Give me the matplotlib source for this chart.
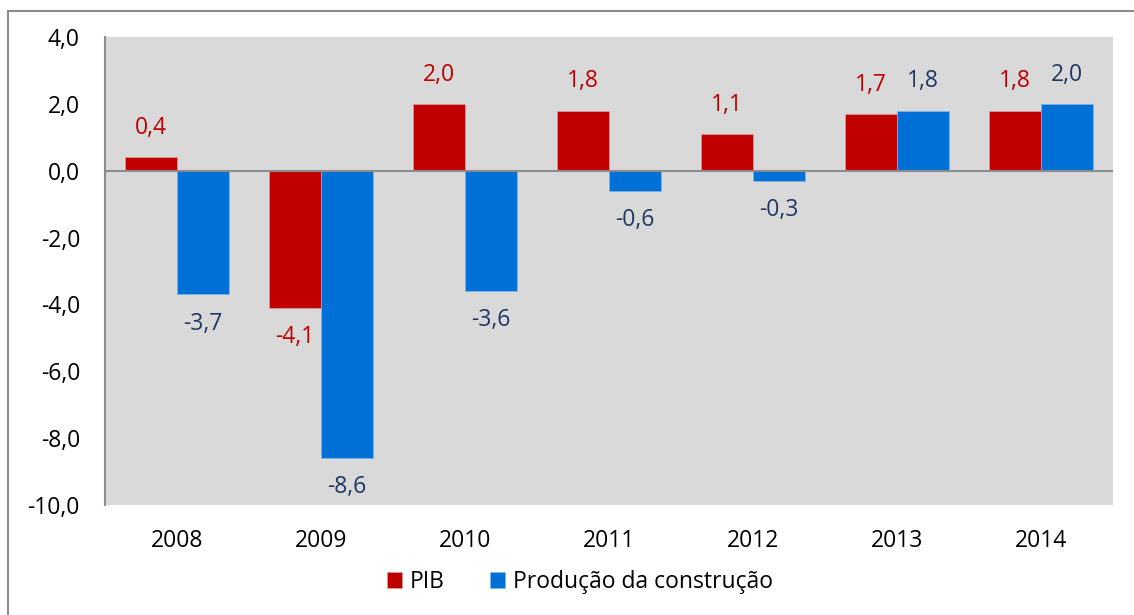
import matplotlib.pyplot as plt
import matplotlib.patches as mpatches
import numpy as np

anos = ['2008', '2009', '2010', '2011', '2012', '2013', '2014']
pib = [0.4, -4.1, 2.0, 1.8, 1.1, 1.7, 1.8]
construcao = [-3.7, -8.6, -3.6, -0.6, -0.3, 1.8, 2.0]

plt.rcParams['font.family'] = ['Open Sans', 'DejaVu Sans']

vermelho = '#C00000'
azul = '#0070D6'
azul_txt = '#1F3864'
fs = 16.5

fig = plt.figure(figsize=(11.34, 6.15), dpi=100)
ax = fig.add_axes([105/1134, 1 - 505/615, 1008/1134, 468/615])
ax.set_facecolor('#D9D9D9')

x = np.arange(len(anos))
w = 0.36
b1 = ax.bar(x - w/2, pib, w, color=vermelho, edgecolor='#D9A0A0', linewidth=0.5, label='PIB', zorder=2)
b2 = ax.bar(x + w/2, construcao, w, color=azul, edgecolor='#80B8E8', linewidth=0.5,
            label='Produção da construção', zorder=2)
ax.axhline(0, color='#8C8C8C', lw=1.5, zorder=3)

def rotula(barras, vals, cor):
    for b, v in zip(barras, vals):
        txt = f'{v:.1f}'.replace('.', ',')
        off = 21 if v >= 0 else -21
        ax.annotate(txt, (b.get_x() + b.get_width()/2, v), xytext=(0, off),
                    textcoords='offset points', ha='center', va='center',
                    color=cor, fontsize=fs)

rotula(b1, pib, vermelho)
rotula(b2, construcao, azul_txt)

ax.set_ylim(-10, 4)
ax.set_xlim(-0.5, len(anos) - 0.5)
ax.set_yticks(np.arange(-10, 4.1, 2))
ax.set_yticklabels([f'{t:.1f}'.replace('.', ',') for t in np.arange(-10, 4.1, 2)])
ax.set_xticks(x)
ax.set_xticklabels(anos)
ax.tick_params(axis='both', length=0, labelsize=fs, colors='black')
ax.tick_params(axis='y', pad=18)
ax.tick_params(axis='x', pad=17)
for s in ['top', 'right', 'bottom']:
    ax.spines[s].set_visible(False)
ax.spines['left'].set_color('#8C8C8C')
ax.spines['left'].set_linewidth(1.5)

fig.legend(handles=[b1, b2], loc='center', bbox_to_anchor=(580/1134, 1 - 582/615), ncol=2,
           frameon=False, fontsize=fs, handlelength=0.65, handleheight=0.65,
           handletextpad=0.35, columnspacing=2.0)

fig.patches.append(mpatches.Rectangle((8/1134, -0.05), 1.1, 1 - 11/615 + 0.05,
                                      transform=fig.transFigure, fill=False,
                                      edgecolor='#8C8C8C', lw=1.5))

fig.savefig('out.png', dpi=100)
